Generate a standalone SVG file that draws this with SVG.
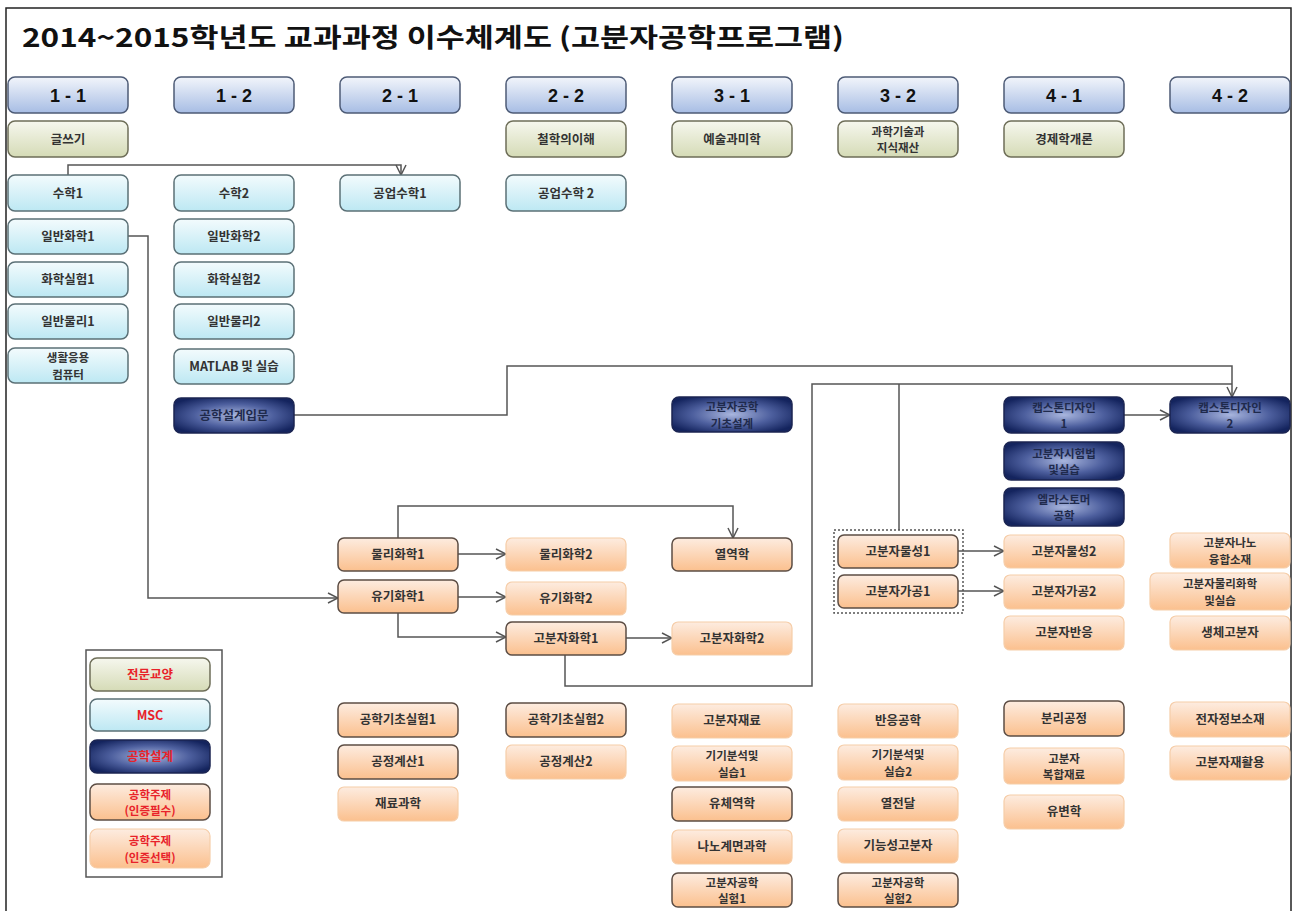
<svg xmlns="http://www.w3.org/2000/svg" width="1296" height="911" viewBox="0 0 1296 911">
<defs>
<linearGradient id="gHead" x1="0" y1="0" x2="0" y2="1"><stop offset="0" stop-color="#f2f5fb"/><stop offset="1" stop-color="#a7bde4"/></linearGradient>
<linearGradient id="gGreen" x1="0" y1="0" x2="0" y2="1"><stop offset="0" stop-color="#f6f7ee"/><stop offset="1" stop-color="#d5dbb6"/></linearGradient>
<linearGradient id="gCyan" x1="0" y1="0" x2="0" y2="1"><stop offset="0" stop-color="#f3fbfd"/><stop offset="1" stop-color="#bde8f3"/></linearGradient>
<radialGradient id="gNavy" cx="0.5" cy="0.5" r="0.6"><stop offset="0" stop-color="#a9b6de"/><stop offset="0.55" stop-color="#4d5f9e"/><stop offset="1" stop-color="#14245e"/></radialGradient>
<linearGradient id="gOrange" x1="0" y1="0" x2="0" y2="1"><stop offset="0" stop-color="#fdece0"/><stop offset="1" stop-color="#fbc08e"/></linearGradient>
<marker id="arr" viewBox="0 0 12 12" refX="11" refY="6" markerWidth="12" markerHeight="12" markerUnits="userSpaceOnUse" orient="auto"><path d="M1,1 L11,6 L1,11" fill="none" stroke="#555" stroke-width="1.5"/></marker>
</defs>
<style>
text{font-family:"Noto Sans CJK KR","Noto Sans",sans-serif;font-weight:bold;text-anchor:middle}
.t{font-size:12.5px;fill:#333}
.t2{font-size:11.5px;fill:#333}
.hd rect{fill:url(#gHead);stroke:#4d5b76;stroke-width:1.5}
.hd text{font-size:18px;fill:#111;font-family:"Liberation Sans","Noto Sans CJK KR",sans-serif}
.gr rect{fill:url(#gGreen);stroke:#6e6e58;stroke-width:1.5}
.cy rect{fill:url(#gCyan);stroke:#5b7076;stroke-width:1.5}
.nv rect{fill:url(#gNavy);stroke:#1b2552;stroke-width:1.5}
.nv text{fill:#1f2a4c}
.od rect{fill:url(#gOrange);stroke:#5c4d44;stroke-width:1.5}
.ol rect{fill:url(#gOrange);stroke:#f6cda8;stroke-width:1.2}
.lg text{fill:#e8222a}
.c path{fill:none;stroke:#555;stroke-width:1.5}
</style>
<rect x="6" y="8" width="1285" height="910" fill="#fff" stroke="#222" stroke-width="1.5"/>
<text x="22" y="47" style="font-size:26px;text-anchor:start;fill:#111" textLength="822" lengthAdjust="spacingAndGlyphs">2014~2015학년도 교과과정 이수체계도 (고분자공학프로그램)</text>

<g id="connectors" class="c">
<path d="M68,175 V165 H401 V175" marker-end="url(#arr)"/>
<path d="M128,236 H148 V598 H338" marker-end="url(#arr)"/>
<path d="M294,415 H507 V366 H1232 V397" marker-end="url(#arr)"/>
<path d="M565,655 V686 H812 V384 H1232"/>
<path d="M899,530 V384"/>
<path d="M1124,415 H1170" marker-end="url(#arr)"/>
<path d="M398,538 V506 H733 V538" marker-end="url(#arr)"/>
<path d="M458,554 H506" marker-end="url(#arr)"/>
<path d="M458,597 H506" marker-end="url(#arr)"/>
<path d="M398,613 V637 H506" marker-end="url(#arr)"/>
<path d="M626,638 H672" marker-end="url(#arr)"/>
<path d="M958,551 H1004" marker-end="url(#arr)"/>
<path d="M958,591 H1004" marker-end="url(#arr)"/>
</g>

<g id="h11" class="hd"><rect x="8" y="77" width="120" height="36" rx="7"/><text x="68" y="102">1 - 1</text></g>
<g id="h12" class="hd"><rect x="174" y="77" width="120" height="36" rx="7"/><text x="234" y="102">1 - 2</text></g>
<g id="h21" class="hd"><rect x="340" y="77" width="120" height="36" rx="7"/><text x="400" y="102">2 - 1</text></g>
<g id="h22" class="hd"><rect x="506" y="77" width="120" height="36" rx="7"/><text x="566" y="102">2 - 2</text></g>
<g id="h31" class="hd"><rect x="672" y="77" width="120" height="36" rx="7"/><text x="732" y="102">3 - 1</text></g>
<g id="h32" class="hd"><rect x="838" y="77" width="120" height="36" rx="7"/><text x="898" y="102">3 - 2</text></g>
<g id="h41" class="hd"><rect x="1004" y="77" width="120" height="36" rx="7"/><text x="1064" y="102">4 - 1</text></g>
<g id="h42" class="hd"><rect x="1170" y="77" width="120" height="36" rx="7"/><text x="1230" y="102">4 - 2</text></g>

<g id="n_geulsseugi" class="gr"><rect x="8" y="121" width="120" height="36" rx="7"/><text class="t" x="68" y="144">글쓰기</text></g>
<g id="n_cheolhak" class="gr"><rect x="506" y="121" width="120" height="36" rx="7"/><text class="t" x="566" y="144">철학의이해</text></g>
<g id="n_yesul" class="gr"><rect x="672" y="121" width="120" height="36" rx="7"/><text class="t" x="732" y="144">예술과미학</text></g>
<g id="n_gwahak" class="gr"><rect x="838" y="121" width="120" height="36" rx="7"/><text class="t2" x="898" y="135.5">과학기술과</text><text class="t2" x="898" y="152.2">지식재산</text></g>
<g id="n_gyeongje" class="gr"><rect x="1004" y="121" width="120" height="36" rx="7"/><text class="t" x="1064" y="144">경제학개론</text></g>

<g id="n_math1" class="cy"><rect x="8" y="175" width="120" height="36" rx="7"/><text class="t" x="68" y="198">수학1</text></g>
<g id="n_math2" class="cy"><rect x="174" y="175" width="120" height="36" rx="7"/><text class="t" x="234" y="198">수학2</text></g>
<g id="n_emath1" class="cy"><rect x="340" y="175" width="120" height="36" rx="7"/><text class="t" x="400" y="198">공업수학1</text></g>
<g id="n_emath2" class="cy"><rect x="506" y="175" width="120" height="36" rx="7"/><text class="t" x="566" y="198">공업수학 2</text></g>
<g id="n_chem1" class="cy"><rect x="8" y="219" width="120" height="35" rx="7"/><text class="t" x="68" y="241">일반화학1</text></g>
<g id="n_chem2" class="cy"><rect x="174" y="219" width="120" height="35" rx="7"/><text class="t" x="234" y="241">일반화학2</text></g>
<g id="n_clab1" class="cy"><rect x="8" y="262" width="120" height="35" rx="7"/><text class="t" x="68" y="284">화학실험1</text></g>
<g id="n_clab2" class="cy"><rect x="174" y="262" width="120" height="35" rx="7"/><text class="t" x="234" y="284">화학실험2</text></g>
<g id="n_phys1" class="cy"><rect x="8" y="304" width="120" height="35" rx="7"/><text class="t" x="68" y="326">일반물리1</text></g>
<g id="n_phys2" class="cy"><rect x="174" y="304" width="120" height="35" rx="7"/><text class="t" x="234" y="326">일반물리2</text></g>
<g id="n_comp" class="cy"><rect x="8" y="348" width="120" height="35" rx="7"/><text class="t2" x="68" y="362">생활응용</text><text class="t2" x="68" y="378.7">컴퓨터</text></g>
<g id="n_matlab" class="cy"><rect x="174" y="349" width="120" height="35" rx="7"/><text class="t" x="234" y="371">MATLAB 및 실습</text></g>

<g id="n_intro" class="nv"><rect x="174" y="398" width="120" height="35" rx="7"/><text class="t" x="234" y="420">공학설계입문</text></g>
<g id="n_basic" class="nv"><rect x="672" y="397" width="120" height="35" rx="7"/><text class="t2" x="732" y="411">고분자공학</text><text class="t2" x="732" y="427.7">기초설계</text></g>
<g id="n_cap1" class="nv"><rect x="1004" y="397" width="120" height="36" rx="7"/><text class="t2" x="1064" y="411.5">캡스톤디자인</text><text class="t2" x="1064" y="428.2">1</text></g>
<g id="n_cap2" class="nv"><rect x="1170" y="397" width="120" height="36" rx="7"/><text class="t2" x="1230" y="411.5">캡스톤디자인</text><text class="t2" x="1230" y="428.2">2</text></g>
<g id="n_test" class="nv"><rect x="1004" y="442" width="120" height="38" rx="7"/><text class="t2" x="1064" y="457.5">고분자시험법</text><text class="t2" x="1064" y="474.2">및실습</text></g>
<g id="n_elasto" class="nv"><rect x="1004" y="488" width="120" height="38" rx="7"/><text class="t2" x="1064" y="503.5">엘라스토머</text><text class="t2" x="1064" y="520.2">공학</text></g>

<g id="n_pchem1" class="od"><rect x="338" y="538" width="120" height="33" rx="6"/><text class="t" x="398" y="559">물리화학1</text></g>
<g id="n_pchem2" class="ol"><rect x="506" y="538" width="120" height="33" rx="6"/><text class="t" x="566" y="559">물리화학2</text></g>
<g id="n_thermo" class="od"><rect x="672" y="538" width="120" height="33" rx="6"/><text class="t" x="732" y="559">열역학</text></g>
<g id="n_ochem1" class="od"><rect x="338" y="580" width="120" height="33" rx="6"/><text class="t" x="398" y="601">유기화학1</text></g>
<g id="n_ochem2" class="ol"><rect x="506" y="582" width="120" height="33" rx="6"/><text class="t" x="566" y="603">유기화학2</text></g>
<g id="n_polchem1" class="od"><rect x="506" y="622" width="120" height="33" rx="6"/><text class="t" x="566" y="643">고분자화학1</text></g>
<g id="n_polchem2" class="ol"><rect x="672" y="622" width="120" height="33" rx="6"/><text class="t" x="732" y="643">고분자화학2</text></g>

<g id="grp_dashed"><rect x="834" y="530" width="129" height="83" fill="none" stroke="#555" stroke-width="1.5" stroke-dasharray="2,2"/></g>
<g id="n_prop1" class="od"><rect x="838" y="535" width="120" height="33" rx="6"/><text class="t" x="898" y="556">고분자물성1</text></g>
<g id="n_proc1" class="od"><rect x="838" y="575" width="120" height="33" rx="6"/><text class="t" x="898" y="596">고분자가공1</text></g>
<g id="n_prop2" class="ol"><rect x="1004" y="535" width="120" height="33" rx="6"/><text class="t" x="1064" y="556">고분자물성2</text></g>
<g id="n_proc2" class="ol"><rect x="1004" y="575" width="120" height="34" rx="6"/><text class="t" x="1064" y="596">고분자가공2</text></g>
<g id="n_react" class="ol"><rect x="1004" y="616" width="120" height="34" rx="6"/><text class="t" x="1064" y="637">고분자반응</text></g>
<g id="n_nano" class="ol"><rect x="1170" y="533" width="120" height="35" rx="6"/><text class="t2" x="1230" y="547">고분자나노</text><text class="t2" x="1230" y="563.7">융합소재</text></g>
<g id="n_pphys" class="ol"><rect x="1150" y="573" width="140" height="37" rx="6"/><text class="t2" x="1220" y="588">고분자물리화학</text><text class="t2" x="1220" y="604.7">및실습</text></g>
<g id="n_bio" class="ol"><rect x="1170" y="616" width="120" height="34" rx="6"/><text class="t" x="1230" y="637">생체고분자</text></g>

<g id="n_elab1" class="od"><rect x="338" y="703" width="120" height="34" rx="6"/><text class="t" x="398" y="724">공학기초실험1</text></g>
<g id="n_calc1" class="od"><rect x="338" y="745" width="120" height="34" rx="6"/><text class="t" x="398" y="766">공정계산1</text></g>
<g id="n_mat" class="ol"><rect x="338" y="787" width="120" height="34" rx="6"/><text class="t" x="398" y="808">재료과학</text></g>
<g id="n_elab2" class="od"><rect x="506" y="703" width="120" height="34" rx="6"/><text class="t" x="566" y="724">공학기초실험2</text></g>
<g id="n_calc2" class="ol"><rect x="506" y="745" width="120" height="34" rx="6"/><text class="t" x="566" y="766">공정계산2</text></g>
<g id="n_polmat" class="ol"><rect x="672" y="704" width="120" height="34" rx="6"/><text class="t" x="732" y="725">고분자재료</text></g>
<g id="n_inst1" class="ol"><rect x="672" y="746" width="120" height="35" rx="6"/><text class="t2" x="732" y="760">기기분석및</text><text class="t2" x="732" y="776.7">실습1</text></g>
<g id="n_fluid" class="od"><rect x="672" y="787" width="120" height="34" rx="6"/><text class="t" x="732" y="808">유체역학</text></g>
<g id="n_nanoif" class="ol"><rect x="672" y="830" width="120" height="34" rx="6"/><text class="t" x="732" y="851">나노계면과학</text></g>
<g id="n_plab1" class="od"><rect x="672" y="873" width="120" height="34" rx="6"/><text class="t2" x="732" y="886.5">고분자공학</text><text class="t2" x="732" y="903.2">실험1</text></g>
<g id="n_reng" class="ol"><rect x="838" y="704" width="120" height="34" rx="6"/><text class="t" x="898" y="725">반응공학</text></g>
<g id="n_inst2" class="ol"><rect x="838" y="745" width="120" height="35" rx="6"/><text class="t2" x="898" y="759">기기분석및</text><text class="t2" x="898" y="775.7">실습2</text></g>
<g id="n_heat" class="ol"><rect x="838" y="787" width="120" height="34" rx="6"/><text class="t" x="898" y="808">열전달</text></g>
<g id="n_func" class="ol"><rect x="838" y="829" width="120" height="34" rx="6"/><text class="t" x="898" y="850">기능성고분자</text></g>
<g id="n_plab2" class="od"><rect x="838" y="873" width="120" height="34" rx="6"/><text class="t2" x="898" y="886.5">고분자공학</text><text class="t2" x="898" y="903.2">실험2</text></g>
<g id="n_sep" class="od"><rect x="1004" y="701" width="120" height="35" rx="6"/><text class="t" x="1064" y="723">분리공정</text></g>
<g id="n_comp2" class="ol"><rect x="1004" y="748" width="120" height="36" rx="6"/><text class="t2" x="1064" y="762.5">고분자</text><text class="t2" x="1064" y="779.2">복합재료</text></g>
<g id="n_rheo" class="ol"><rect x="1004" y="795" width="120" height="34" rx="6"/><text class="t" x="1064" y="816">유변학</text></g>
<g id="n_elec" class="ol"><rect x="1170" y="702" width="120" height="35" rx="6"/><text class="t" x="1230" y="724">전자정보소재</text></g>
<g id="n_recyc" class="ol"><rect x="1170" y="746" width="120" height="34" rx="6"/><text class="t" x="1230" y="767">고분자재활용</text></g>

<g id="legend">
<rect x="86" y="650" width="136" height="227" fill="#fff" stroke="#555" stroke-width="1.5"/>
<g class="gr lg"><rect x="90" y="658" width="120" height="33" rx="7"/><text class="t" x="150" y="679" style="fill:#e8222a">전문교양</text></g>
<g class="cy lg"><rect x="90" y="699" width="120" height="32" rx="7"/><text class="t" x="150" y="720" style="fill:#e8222a">MSC</text></g>
<g class="nv lg"><rect x="90" y="740" width="120" height="33" rx="7"/><text class="t" x="150" y="761" style="fill:#e8222a">공학설계</text></g>
<g class="od lg"><rect x="90" y="784" width="120" height="36" rx="7"/><text class="t2" x="150" y="798.5" style="fill:#e8222a">공학주제</text><text class="t2" x="150" y="815.2" style="fill:#e8222a">(인증필수)</text></g>
<g class="ol lg"><rect x="90" y="829" width="120" height="39" rx="7"/><text class="t2" x="150" y="845" style="fill:#e8222a">공학주제</text><text class="t2" x="150" y="861.7" style="fill:#e8222a">(인증선택)</text></g>
</g>
</svg>
